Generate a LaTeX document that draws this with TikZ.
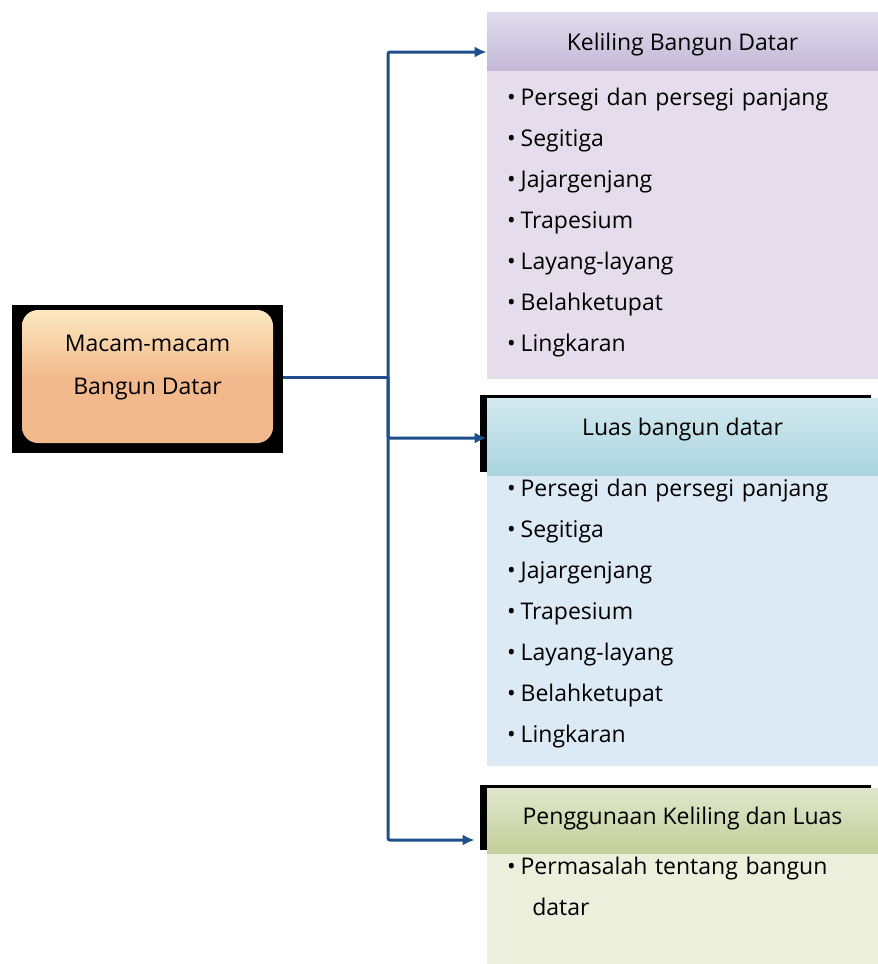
\documentclass[tikz,border=0pt]{standalone}
\usepackage{fontspec}
\setmainfont{Open Sans}
\usetikzlibrary{positioning,shadows,arrows.meta}
\definecolor{linkblue}{HTML}{1F4E8C}
\definecolor{kelhead}{HTML}{C3B9D8}
\definecolor{kelbody}{HTML}{E5DDEB}
\definecolor{luashead}{HTML}{A9D4DF}
\definecolor{luasbody}{HTML}{DCEAF5}
\definecolor{gunahead}{HTML}{C2CE9A}
\definecolor{gunabody}{HTML}{EBEFDC}
\definecolor{mainfill}{HTML}{F2B98C}
\definecolor{mainlight}{HTML}{FCEBC4}
\newcommand\itemfont{\fontsize{11.5}{20.5}\selectfont}
\newcommand\bul{\textbullet\hspace{2.5pt}}

\tikzset{
  headbox/.style={rectangle, minimum width=195.5pt, inner sep=0pt, top color=#1!50!white, bottom color=#1, font=\itemfont},
  bodybox/.style={rectangle, fill=#1, minimum width=195.5pt, inner xsep=10pt, inner ysep=0pt, text width=175.5pt, align=left, font=\itemfont},
  blackedge/.style={general shadow={fill=black, shadow xshift=-3.5pt, shadow yshift=1.5pt}},
  link/.style={draw=linkblue, line width=1.5pt, rounded corners=1pt},
  >={Latex[length=6pt,width=5.5pt]}
}

\begin{document}
\begin{tikzpicture}[x=0.5pt, y=-0.5pt]
	\useasboundingbox (0,0) rectangle (878,964);

	% main box
	\node[rectangle, fill=black, minimum width=135.5pt, minimum height=74pt, inner sep=0pt, align=center, text depth=14.3pt,
		font=\fontsize{11.5}{21.5}\selectfont,
		path picture={\shade[top color=mainlight, bottom color=mainfill, middle color=mainfill, rounded corners=8pt]
			([xshift=5pt, yshift=5pt]path picture bounding box.south west) rectangle ([xshift=-5pt, yshift=-2.5pt]path picture bounding box.north east);}]
		(macam) at (147.5,379) {Macam-macam\\Bangun Datar};

	% headers
	\node[headbox=kelhead, minimum height=29pt, text height=12pt] (kel) at (682.5,41) {Keliling Bangun Datar};
	\node[headbox=luashead, blackedge, minimum height=38.5pt, text depth=9.3pt] (luas) at (682.5,436.5) {Luas bangun datar};
	\node[headbox=gunahead, blackedge, minimum height=32.5pt, text depth=4.3pt] (guna) at (682.5,820.5) {Penggunaan Keliling dan Luas};

	% lists
	\node[bodybox=kelbody, minimum height=154pt, text depth=128.3pt, below=0pt of kel] (kellist) {%
		\bul Persegi dan persegi panjang\\
		\bul Segitiga\\
		\bul Jajargenjang\\
		\bul Trapesium\\
		\bul Layang-layang\\
		\bul Belahketupat\\
		\bul Lingkaran};
	\node[bodybox=luasbody, minimum height=145pt, text depth=133.3pt, below=0pt of luas] (luaslist) {%
		\bul Persegi dan persegi panjang\\
		\bul Segitiga\\
		\bul Jajargenjang\\
		\bul Trapesium\\
		\bul Layang-layang\\
		\bul Belahketupat\\
		\bul Lingkaran};
	\node[bodybox=gunabody, minimum height=55.5pt, text depth=43.8pt, below=0pt of guna] (gunalist) {%
		\bul Permasalah tentang bangun\\
		\hspace*{1.1em}datar};

	% connectors
	\coordinate (junc) at (388,377);
	\draw[link] (macam.east |- junc) -- (junc);
	\draw[link, ->] (junc) |- ([yshift=-5.5pt]kel.west);
	\draw[link, ->] (junc) |- ([yshift=-0.75pt]luas.west);
	\draw[link, ->, shorten >=6pt] (junc) |- ([yshift=-9.75pt]guna.west);
\end{tikzpicture}
\end{document}
